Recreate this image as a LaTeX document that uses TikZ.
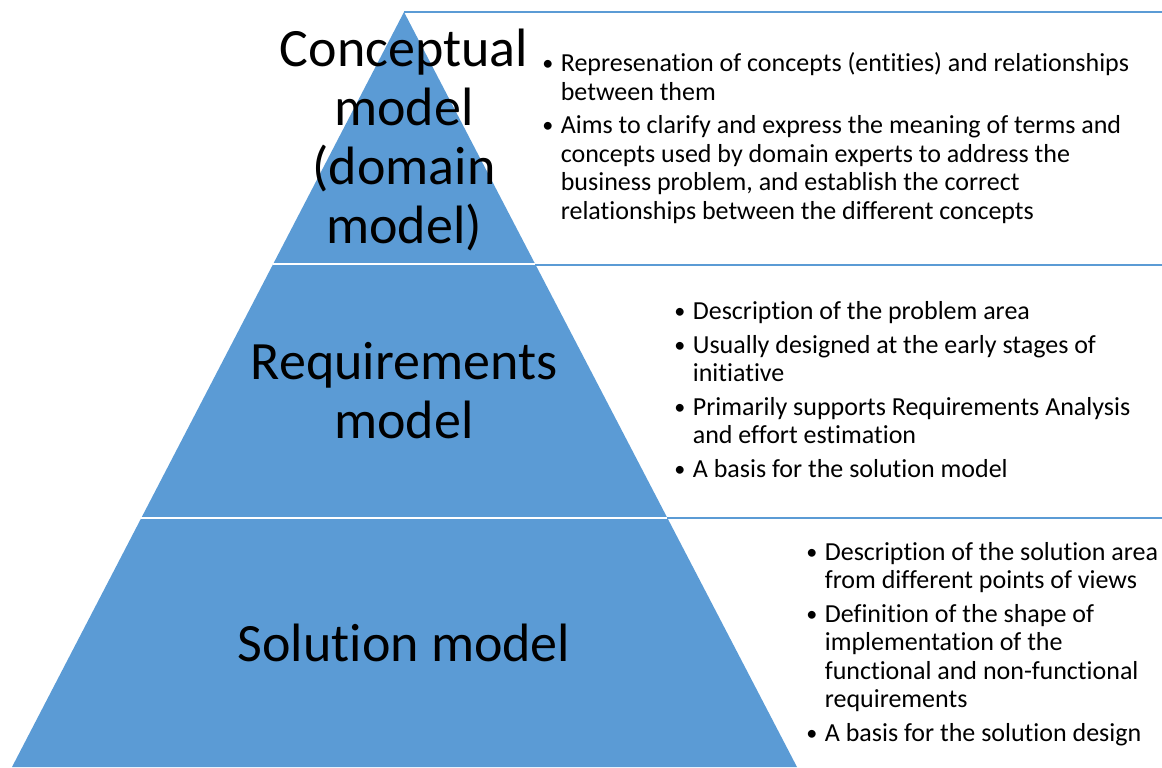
\documentclass[tikz,border=0pt]{standalone}
\usepackage{fontspec}
\setmainfont[Ligatures=NoCommon]{Carlito}
\usetikzlibrary{calc}
\definecolor{PyrBlue}{RGB}{91,155,213}
\tikzset{
  sepline/.style={draw=PyrBlue,line width=1.6pt},
  gapline/.style={draw=white,line width=1.4pt},
  tiername/.style={align=center,inner sep=0pt,font=\fontsize{32.4}{35.4}\selectfont},
  bullets/.style={anchor=west,inner sep=0pt,font=\fontsize{15.6}{17.1}\selectfont},
}
\newcommand{\bul}{\raisebox{0.6pt}{\scalebox{0.85}{\textbullet}}}

\begin{document}
\begin{tikzpicture}[x=0.6pt,y=-0.6pt]
    \useasboundingbox (0,0) rectangle (1162,767);
    %% Pyramid corners
    \coordinate (apex) at (404,12);
    \coordinate (l1) at (273.2,264);
    \coordinate (r1) at (535.2,264);
    \coordinate (l2) at (141.3,518);
    \coordinate (r2) at (667.4,518);
    \coordinate (l3) at (12,767);
    \coordinate (r3) at (797,767);
    \coordinate (right) at (1162,0);
    %% Tiers
    \fill[PyrBlue] (apex) -- (r3) -- (l3) -- cycle;
    \draw[gapline] (l1) -- (r1);
    \draw[gapline] (l2) -- (r2);
    %% Blue rules to the right
    \draw[sepline] (apex) -- (apex -| right);
    \draw[sepline] ([yshift=-0.6pt]r1) -- ([yshift=-0.6pt]r1 -| right);
    \draw[sepline] (r2) -- (r2 -| right);
    %% Tier names
    \node[tiername] (concept) at (404,140) {Conceptual\\model\\(domain\\model)};
    \node[tiername] (require) at (404,391) {Requirements\\model};
    \node[tiername] (solution) at (404,643) {Solution model};
    %% Notes
    \node[bullets] (concept notes) at (542,140) {\begin{tabular}{@{}l@{\hspace{4.5pt}}l@{}}
      \bul & Represenation of concepts (entities) and relationships\\
           & between them\\[3pt]
      \bul & Aims to clarify and express the meaning of terms and\\
           & concepts used by domain experts to address the\\
           & business problem, and establish the correct\\
           & relationships between the different concepts
    \end{tabular}};
    \node[bullets] (require notes) at (674,393) {\begin{tabular}{@{}l@{\hspace{4.5pt}}l@{}}
      \bul & Description of the problem area\\[3pt]
      \bul & Usually designed at the early stages of\\
           & initiative\\[3pt]
      \bul & Primarily supports Requirements Analysis\\
           & and effort estimation\\[3pt]
      \bul & A basis for the solution model
    \end{tabular}};
    \node[bullets] (solution notes) at (806,645) {\begin{tabular}{@{}l@{\hspace{4.5pt}}l@{}}
      \bul & Description of the solution area\\
           & from different points of views\\[3pt]
      \bul & Definition of the shape of\\
           & implementation of the\\
           & functional and non-functional\\
           & requirements\\[3pt]
      \bul & A basis for the solution design
    \end{tabular}};
\end{tikzpicture}
\end{document}
